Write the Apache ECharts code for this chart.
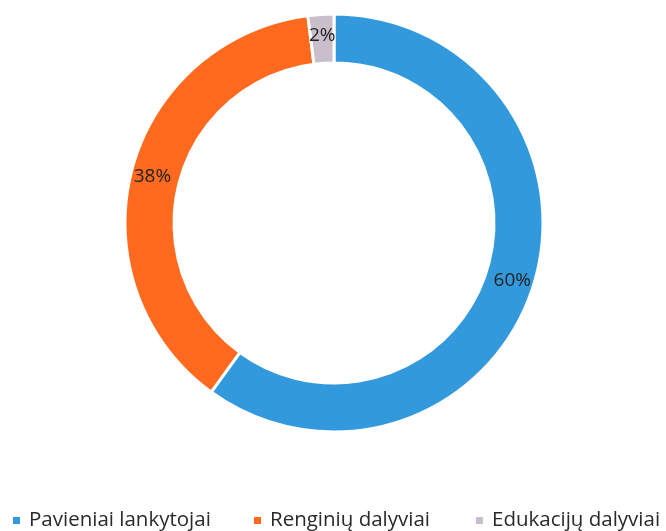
<!DOCTYPE html>
<html><head><meta charset="utf-8">
<script src="https://cdn.jsdelivr.net/npm/echarts@6/dist/echarts.min.js"></script>
<style>html,body{margin:0;padding:0;background:#fff;}#c{width:666px;height:531px;}</style>
</head><body><div id="c"></div>
<script>
const categories = ['Pavieniai lankytojai', 'Renginių dalyviai', 'Edukacijų dalyviai'];
const values = [60, 38, 2];
const colors = ['#3399DD', '#FF6A1E', '#C8BFCA'];
const legendLeft = [6, 247, 469];

const chart = echarts.init(document.getElementById('c'), null, {renderer: 'canvas'});
const font = '"Open Sans", "Liberation Sans", sans-serif';
chart.setOption({
  animation: false,
  color: colors,
  legend: categories.map((name, i) => ({
    data: [name],
    left: legendLeft[i],
    top: 505,
    itemWidth: 9, itemHeight: 9, itemGap: 0,
    icon: 'rect',
    textStyle: {fontFamily: font, fontSize: 20.5, color: '#2a2a2a', padding: [0, 0, 0, 3]}
  })),
  series: [{
    type: 'pie',
    center: [334, 223],
    radius: [160, 209],
    startAngle: 90,
    clockwise: true,
    avoidLabelOverlap: false,
    itemStyle: {borderColor: '#fff', borderWidth: 3},
    label: {
      show: true, position: 'inside',
      formatter: '{d}%',
      fontFamily: font, fontSize: 19, color: '#222'
    },
    labelLine: {show: false},
    data: categories.map((n, i) => ({name: n, value: values[i]}))
  }]
});
</script></body></html>
